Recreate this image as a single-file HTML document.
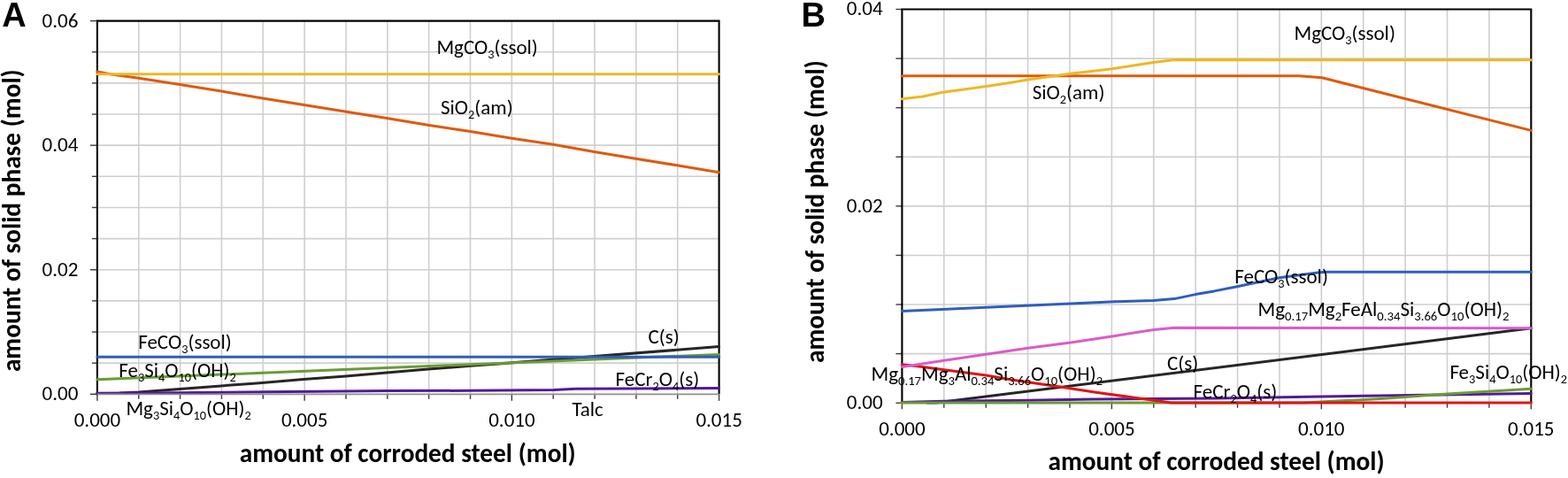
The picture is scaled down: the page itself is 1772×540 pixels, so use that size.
<!DOCTYPE html>
<html><head><meta charset="utf-8"><title>Solid phases vs corroded steel</title>
<style>
html,body{margin:0;padding:0;background:#fff;}
svg{display:block;}
text{font-family:Carlito, 'Liberation Sans', sans-serif;font-size:23px;fill:#000;}
text.b{font-weight:bold;font-size:29.3px;}
text.L{font-family:'Liberation Sans',Arial,sans-serif;font-weight:bold;font-size:38px;}
</style></head>
<body>
<svg width="1772" height="540" viewBox="0 0 1772 540">
<rect width="1772" height="540" fill="#fff"/>
<line x1="156.75" y1="23.60" x2="156.75" y2="445.30" stroke="#CFCFCF" stroke-width="1.6"/>
<line x1="203.59" y1="23.60" x2="203.59" y2="445.30" stroke="#CFCFCF" stroke-width="1.6"/>
<line x1="250.44" y1="23.60" x2="250.44" y2="445.30" stroke="#CFCFCF" stroke-width="1.6"/>
<line x1="297.29" y1="23.60" x2="297.29" y2="445.30" stroke="#CFCFCF" stroke-width="1.6"/>
<line x1="344.13" y1="23.60" x2="344.13" y2="445.30" stroke="#CFCFCF" stroke-width="1.6"/>
<line x1="390.98" y1="23.60" x2="390.98" y2="445.30" stroke="#CFCFCF" stroke-width="1.6"/>
<line x1="437.83" y1="23.60" x2="437.83" y2="445.30" stroke="#CFCFCF" stroke-width="1.6"/>
<line x1="484.67" y1="23.60" x2="484.67" y2="445.30" stroke="#CFCFCF" stroke-width="1.6"/>
<line x1="531.52" y1="23.60" x2="531.52" y2="445.30" stroke="#CFCFCF" stroke-width="1.6"/>
<line x1="578.37" y1="23.60" x2="578.37" y2="445.30" stroke="#CFCFCF" stroke-width="1.6"/>
<line x1="625.21" y1="23.60" x2="625.21" y2="445.30" stroke="#CFCFCF" stroke-width="1.6"/>
<line x1="672.06" y1="23.60" x2="672.06" y2="445.30" stroke="#CFCFCF" stroke-width="1.6"/>
<line x1="718.91" y1="23.60" x2="718.91" y2="445.30" stroke="#CFCFCF" stroke-width="1.6"/>
<line x1="765.75" y1="23.60" x2="765.75" y2="445.30" stroke="#CFCFCF" stroke-width="1.6"/>
<line x1="109.90" y1="410.16" x2="812.60" y2="410.16" stroke="#CFCFCF" stroke-width="1.6"/>
<line x1="109.90" y1="375.02" x2="812.60" y2="375.02" stroke="#CFCFCF" stroke-width="1.6"/>
<line x1="109.90" y1="339.88" x2="812.60" y2="339.88" stroke="#CFCFCF" stroke-width="1.6"/>
<line x1="109.90" y1="304.73" x2="812.60" y2="304.73" stroke="#CFCFCF" stroke-width="1.6"/>
<line x1="109.90" y1="269.59" x2="812.60" y2="269.59" stroke="#CFCFCF" stroke-width="1.6"/>
<line x1="109.90" y1="234.45" x2="812.60" y2="234.45" stroke="#CFCFCF" stroke-width="1.6"/>
<line x1="109.90" y1="199.31" x2="812.60" y2="199.31" stroke="#CFCFCF" stroke-width="1.6"/>
<line x1="109.90" y1="164.17" x2="812.60" y2="164.17" stroke="#CFCFCF" stroke-width="1.6"/>
<line x1="109.90" y1="129.03" x2="812.60" y2="129.03" stroke="#CFCFCF" stroke-width="1.6"/>
<line x1="109.90" y1="93.88" x2="812.60" y2="93.88" stroke="#CFCFCF" stroke-width="1.6"/>
<line x1="109.90" y1="58.74" x2="812.60" y2="58.74" stroke="#CFCFCF" stroke-width="1.6"/>
<line x1="101.90" y1="445.30" x2="109.90" y2="445.30" stroke="#3A3A3A" stroke-width="1.4"/>
<line x1="103.90" y1="410.16" x2="109.90" y2="410.16" stroke="#3A3A3A" stroke-width="1.4"/>
<line x1="103.90" y1="375.02" x2="109.90" y2="375.02" stroke="#3A3A3A" stroke-width="1.4"/>
<line x1="103.90" y1="339.88" x2="109.90" y2="339.88" stroke="#3A3A3A" stroke-width="1.4"/>
<line x1="101.90" y1="304.73" x2="109.90" y2="304.73" stroke="#3A3A3A" stroke-width="1.4"/>
<line x1="103.90" y1="269.59" x2="109.90" y2="269.59" stroke="#3A3A3A" stroke-width="1.4"/>
<line x1="103.90" y1="234.45" x2="109.90" y2="234.45" stroke="#3A3A3A" stroke-width="1.4"/>
<line x1="103.90" y1="199.31" x2="109.90" y2="199.31" stroke="#3A3A3A" stroke-width="1.4"/>
<line x1="101.90" y1="164.17" x2="109.90" y2="164.17" stroke="#3A3A3A" stroke-width="1.4"/>
<line x1="103.90" y1="129.03" x2="109.90" y2="129.03" stroke="#3A3A3A" stroke-width="1.4"/>
<line x1="103.90" y1="93.88" x2="109.90" y2="93.88" stroke="#3A3A3A" stroke-width="1.4"/>
<line x1="103.90" y1="58.74" x2="109.90" y2="58.74" stroke="#3A3A3A" stroke-width="1.4"/>
<line x1="101.90" y1="23.60" x2="109.90" y2="23.60" stroke="#3A3A3A" stroke-width="1.4"/>
<line x1="109.90" y1="445.30" x2="109.90" y2="452.80" stroke="#3A3A3A" stroke-width="1.4"/>
<line x1="156.75" y1="445.30" x2="156.75" y2="450.80" stroke="#3A3A3A" stroke-width="1.4"/>
<line x1="203.59" y1="445.30" x2="203.59" y2="450.80" stroke="#3A3A3A" stroke-width="1.4"/>
<line x1="250.44" y1="445.30" x2="250.44" y2="450.80" stroke="#3A3A3A" stroke-width="1.4"/>
<line x1="297.29" y1="445.30" x2="297.29" y2="450.80" stroke="#3A3A3A" stroke-width="1.4"/>
<line x1="344.13" y1="445.30" x2="344.13" y2="452.80" stroke="#3A3A3A" stroke-width="1.4"/>
<line x1="390.98" y1="445.30" x2="390.98" y2="450.80" stroke="#3A3A3A" stroke-width="1.4"/>
<line x1="437.83" y1="445.30" x2="437.83" y2="450.80" stroke="#3A3A3A" stroke-width="1.4"/>
<line x1="484.67" y1="445.30" x2="484.67" y2="450.80" stroke="#3A3A3A" stroke-width="1.4"/>
<line x1="531.52" y1="445.30" x2="531.52" y2="450.80" stroke="#3A3A3A" stroke-width="1.4"/>
<line x1="578.37" y1="445.30" x2="578.37" y2="452.80" stroke="#3A3A3A" stroke-width="1.4"/>
<line x1="625.21" y1="445.30" x2="625.21" y2="450.80" stroke="#3A3A3A" stroke-width="1.4"/>
<line x1="672.06" y1="445.30" x2="672.06" y2="450.80" stroke="#3A3A3A" stroke-width="1.4"/>
<line x1="718.91" y1="445.30" x2="718.91" y2="450.80" stroke="#3A3A3A" stroke-width="1.4"/>
<line x1="765.75" y1="445.30" x2="765.75" y2="450.80" stroke="#3A3A3A" stroke-width="1.4"/>
<line x1="812.60" y1="445.30" x2="812.60" y2="452.80" stroke="#3A3A3A" stroke-width="1.4"/>
<polyline points="109.90,446.20 109.90,23.60 812.60,23.60 812.60,445.30" fill="none" stroke="#000" stroke-width="2.1"/>
<polyline points="109.9,80.9 126.0,84.0 156.7,88.2 203.3,95.5 250.0,103.0 296.7,111.0 343.5,118.5 390.0,126.0 437.0,133.5 485.0,141.5 531.6,148.6 578.4,156.3 625.3,163.3 671.6,171.5 718.4,179.2 765.0,186.8 812.6,194.8" fill="none" stroke="#DF5A0C" stroke-width="3" stroke-linejoin="round" stroke-linecap="round"/>
<polyline points="109.9,444.3 135.0,444.0 157.0,443.0 203.0,439.6 250.0,435.9 290.0,433.0 343.0,428.4 390.6,425.0 437.0,421.1 484.0,417.0 531.5,413.3 560.0,411.2 812.6,391.6" fill="none" stroke="#262626" stroke-width="3" stroke-linejoin="round" stroke-linecap="round"/>
<polyline points="109.9,428.7 812.6,400.4" fill="none" stroke="#6A9C33" stroke-width="3" stroke-linejoin="round" stroke-linecap="round"/>
<polyline points="109.9,403.3 812.6,403.3" fill="none" stroke="#2F5EBD" stroke-width="3" stroke-linejoin="round" stroke-linecap="round"/>
<polyline points="109.9,444.6 300.0,442.7 440.0,441.6 531.0,441.3 626.0,440.5 650.0,439.2 812.6,438.5" fill="none" stroke="#521A98" stroke-width="3" stroke-linejoin="round" stroke-linecap="round"/>
<polyline points="109.9,83.7 812.6,83.7" fill="none" stroke="#EEB824" stroke-width="3" stroke-linejoin="round" stroke-linecap="round"/>
<line x1="109.90" y1="445.30" x2="812.60" y2="445.30" stroke="#8F8F8F" stroke-width="1.8"/>
<text textLength="40.78" lengthAdjust="spacingAndGlyphs" x="88.4" y="30.6" text-anchor="end">0.06</text>
<text textLength="40.78" lengthAdjust="spacingAndGlyphs" x="88.4" y="171.2" text-anchor="end">0.04</text>
<text textLength="40.78" lengthAdjust="spacingAndGlyphs" x="88.4" y="311.7" text-anchor="end">0.02</text>
<text textLength="40.78" lengthAdjust="spacingAndGlyphs" x="88.4" y="452.3" text-anchor="end">0.00</text>
<text textLength="52.44" lengthAdjust="spacingAndGlyphs" x="109.9" y="481.6" text-anchor="middle">0.000</text>
<text textLength="52.44" lengthAdjust="spacingAndGlyphs" x="344.1" y="481.6" text-anchor="middle">0.005</text>
<text textLength="52.44" lengthAdjust="spacingAndGlyphs" x="578.4" y="481.6" text-anchor="middle">0.010</text>
<text textLength="52.44" lengthAdjust="spacingAndGlyphs" x="812.6" y="481.6" text-anchor="middle">0.015</text>
<text textLength="114.39" lengthAdjust="spacingAndGlyphs" x="493.4" y="60.8">MgCO<tspan font-size="14.3" dy="5">3</tspan><tspan dy="-5">(ssol)</tspan></text>
<text textLength="81.67" lengthAdjust="spacingAndGlyphs" x="498.0" y="128.9">SiO<tspan font-size="14.3" dy="5">2</tspan><tspan dy="-5">(am)</tspan></text>
<text textLength="105.58" lengthAdjust="spacingAndGlyphs" x="156.2" y="393.6">FeCO<tspan font-size="14.3" dy="5">3</tspan><tspan dy="-5">(ssol)</tspan></text>
<text textLength="132.55" lengthAdjust="spacingAndGlyphs" x="134.2" y="425.6">Fe<tspan font-size="14.3" dy="5">3</tspan><tspan dy="-5">Si</tspan><tspan font-size="14.3" dy="5">4</tspan><tspan dy="-5">O</tspan><tspan font-size="14.3" dy="5">10</tspan><tspan dy="-5">(OH)</tspan><tspan font-size="14.3" dy="5">2</tspan></text>
<text textLength="35.22" lengthAdjust="spacingAndGlyphs" x="732.5" y="387.8">C(s)</text>
<text textLength="94.66" lengthAdjust="spacingAndGlyphs" x="695.6" y="435.6">FeCr<tspan font-size="14.3" dy="5">2</tspan><tspan dy="-5">O</tspan><tspan font-size="14.3" dy="5">4</tspan><tspan dy="-5">(s)</tspan></text>
<text textLength="141.36" lengthAdjust="spacingAndGlyphs" x="142.4" y="468.5">Mg<tspan font-size="14.3" dy="5">3</tspan><tspan dy="-5">Si</tspan><tspan font-size="14.3" dy="5">4</tspan><tspan dy="-5">O</tspan><tspan font-size="14.3" dy="5">10</tspan><tspan dy="-5">(OH)</tspan><tspan font-size="14.3" dy="5">2</tspan></text>
<text textLength="35.44" lengthAdjust="spacingAndGlyphs" x="646.4" y="470.0">Talc</text>
<text textLength="380.05" lengthAdjust="spacingAndGlyphs" x="460.7" y="521.9" text-anchor="middle" class="b">amount of corroded steel (mol)</text>
<text textLength="341.81" lengthAdjust="spacingAndGlyphs" transform="translate(22.7,249.2) rotate(-90)" text-anchor="middle" class="b">amount of solid phase (mol)</text>
<text textLength="27.45" lengthAdjust="spacingAndGlyphs" x="2.2" y="30" class="L">A</text>
<line x1="1066.79" y1="10.50" x2="1066.79" y2="455.20" stroke="#CFCFCF" stroke-width="1.6"/>
<line x1="1114.19" y1="10.50" x2="1114.19" y2="455.20" stroke="#CFCFCF" stroke-width="1.6"/>
<line x1="1161.58" y1="10.50" x2="1161.58" y2="455.20" stroke="#CFCFCF" stroke-width="1.6"/>
<line x1="1208.97" y1="10.50" x2="1208.97" y2="455.20" stroke="#CFCFCF" stroke-width="1.6"/>
<line x1="1256.37" y1="10.50" x2="1256.37" y2="455.20" stroke="#CFCFCF" stroke-width="1.6"/>
<line x1="1303.76" y1="10.50" x2="1303.76" y2="455.20" stroke="#CFCFCF" stroke-width="1.6"/>
<line x1="1351.15" y1="10.50" x2="1351.15" y2="455.20" stroke="#CFCFCF" stroke-width="1.6"/>
<line x1="1398.55" y1="10.50" x2="1398.55" y2="455.20" stroke="#CFCFCF" stroke-width="1.6"/>
<line x1="1445.94" y1="10.50" x2="1445.94" y2="455.20" stroke="#CFCFCF" stroke-width="1.6"/>
<line x1="1493.33" y1="10.50" x2="1493.33" y2="455.20" stroke="#CFCFCF" stroke-width="1.6"/>
<line x1="1540.73" y1="10.50" x2="1540.73" y2="455.20" stroke="#CFCFCF" stroke-width="1.6"/>
<line x1="1588.12" y1="10.50" x2="1588.12" y2="455.20" stroke="#CFCFCF" stroke-width="1.6"/>
<line x1="1635.51" y1="10.50" x2="1635.51" y2="455.20" stroke="#CFCFCF" stroke-width="1.6"/>
<line x1="1682.91" y1="10.50" x2="1682.91" y2="455.20" stroke="#CFCFCF" stroke-width="1.6"/>
<line x1="1019.40" y1="399.61" x2="1730.30" y2="399.61" stroke="#CFCFCF" stroke-width="1.6"/>
<line x1="1019.40" y1="344.02" x2="1730.30" y2="344.02" stroke="#CFCFCF" stroke-width="1.6"/>
<line x1="1019.40" y1="288.44" x2="1730.30" y2="288.44" stroke="#CFCFCF" stroke-width="1.6"/>
<line x1="1019.40" y1="232.85" x2="1730.30" y2="232.85" stroke="#CFCFCF" stroke-width="1.6"/>
<line x1="1019.40" y1="177.26" x2="1730.30" y2="177.26" stroke="#CFCFCF" stroke-width="1.6"/>
<line x1="1019.40" y1="121.68" x2="1730.30" y2="121.68" stroke="#CFCFCF" stroke-width="1.6"/>
<line x1="1019.40" y1="66.09" x2="1730.30" y2="66.09" stroke="#CFCFCF" stroke-width="1.6"/>
<line x1="1012.40" y1="455.20" x2="1019.40" y2="455.20" stroke="#3A3A3A" stroke-width="1.4"/>
<line x1="1012.40" y1="399.61" x2="1019.40" y2="399.61" stroke="#3A3A3A" stroke-width="1.4"/>
<line x1="1012.40" y1="344.02" x2="1019.40" y2="344.02" stroke="#3A3A3A" stroke-width="1.4"/>
<line x1="1012.40" y1="288.44" x2="1019.40" y2="288.44" stroke="#3A3A3A" stroke-width="1.4"/>
<line x1="1012.40" y1="232.85" x2="1019.40" y2="232.85" stroke="#3A3A3A" stroke-width="1.4"/>
<line x1="1012.40" y1="177.26" x2="1019.40" y2="177.26" stroke="#3A3A3A" stroke-width="1.4"/>
<line x1="1012.40" y1="121.68" x2="1019.40" y2="121.68" stroke="#3A3A3A" stroke-width="1.4"/>
<line x1="1012.40" y1="66.09" x2="1019.40" y2="66.09" stroke="#3A3A3A" stroke-width="1.4"/>
<line x1="1012.40" y1="10.50" x2="1019.40" y2="10.50" stroke="#3A3A3A" stroke-width="1.4"/>
<line x1="1019.40" y1="455.20" x2="1019.40" y2="462.20" stroke="#3A3A3A" stroke-width="1.4"/>
<line x1="1066.79" y1="455.20" x2="1066.79" y2="460.70" stroke="#3A3A3A" stroke-width="1.4"/>
<line x1="1114.19" y1="455.20" x2="1114.19" y2="460.70" stroke="#3A3A3A" stroke-width="1.4"/>
<line x1="1161.58" y1="455.20" x2="1161.58" y2="460.70" stroke="#3A3A3A" stroke-width="1.4"/>
<line x1="1208.97" y1="455.20" x2="1208.97" y2="460.70" stroke="#3A3A3A" stroke-width="1.4"/>
<line x1="1256.37" y1="455.20" x2="1256.37" y2="462.20" stroke="#3A3A3A" stroke-width="1.4"/>
<line x1="1303.76" y1="455.20" x2="1303.76" y2="460.70" stroke="#3A3A3A" stroke-width="1.4"/>
<line x1="1351.15" y1="455.20" x2="1351.15" y2="460.70" stroke="#3A3A3A" stroke-width="1.4"/>
<line x1="1398.55" y1="455.20" x2="1398.55" y2="460.70" stroke="#3A3A3A" stroke-width="1.4"/>
<line x1="1445.94" y1="455.20" x2="1445.94" y2="460.70" stroke="#3A3A3A" stroke-width="1.4"/>
<line x1="1493.33" y1="455.20" x2="1493.33" y2="462.20" stroke="#3A3A3A" stroke-width="1.4"/>
<line x1="1540.73" y1="455.20" x2="1540.73" y2="460.70" stroke="#3A3A3A" stroke-width="1.4"/>
<line x1="1588.12" y1="455.20" x2="1588.12" y2="460.70" stroke="#3A3A3A" stroke-width="1.4"/>
<line x1="1635.51" y1="455.20" x2="1635.51" y2="460.70" stroke="#3A3A3A" stroke-width="1.4"/>
<line x1="1682.91" y1="455.20" x2="1682.91" y2="460.70" stroke="#3A3A3A" stroke-width="1.4"/>
<line x1="1730.30" y1="455.20" x2="1730.30" y2="462.20" stroke="#3A3A3A" stroke-width="1.4"/>
<line x1="1019.40" y1="455.20" x2="1730.30" y2="455.20" stroke="#8F8F8F" stroke-width="1.8"/>
<polyline points="1019.40,456.10 1019.40,10.50 1730.30,10.50 1730.30,455.20" fill="none" stroke="#000" stroke-width="2.1"/>
<polyline points="1019.4,85.8 1468.0,85.8 1494.0,87.8 1730.3,147.4" fill="none" stroke="#DF5A0C" stroke-width="3" stroke-linejoin="round" stroke-linecap="round"/>
<polyline points="1048.0,455.1 1057.7,455.1 1730.3,370.8" fill="none" stroke="#262626" stroke-width="3" stroke-linejoin="round" stroke-linecap="round"/>
<polyline points="1019.4,454.6 1065.8,453.3 1161.3,452.3 1234.4,450.9 1375.0,449.9 1493.6,448.1 1730.3,444.4" fill="none" stroke="#521A98" stroke-width="3" stroke-linejoin="round" stroke-linecap="round"/>
<polyline points="1019.4,455.1 1472.0,455.1 1560.0,450.5 1635.7,445.0 1730.3,439.3" fill="none" stroke="#6A9C33" stroke-width="3" stroke-linejoin="round" stroke-linecap="round"/>
<polyline points="1019.4,411.7 1037.2,413.7 1066.9,417.8 1114.3,424.1 1144.6,429.3 1197.9,437.1 1238.5,443.2 1289.3,450.3 1323.8,455.0 1730.3,455.1" fill="none" stroke="#E21414" stroke-width="3" stroke-linejoin="round" stroke-linecap="round"/>
<polyline points="1019.4,414.4 1066.9,407.2 1114.3,400.3 1161.5,393.3 1210.0,387.1 1260.0,379.4 1304.0,372.4 1327.0,370.3 1730.3,370.8" fill="none" stroke="#DA5BCB" stroke-width="3" stroke-linejoin="round" stroke-linecap="round"/>
<polyline points="1019.4,351.6 1260.0,340.8 1303.7,339.4 1327.0,337.6 1351.0,332.6 1372.0,328.9 1398.0,323.7 1446.0,313.7 1489.0,308.0 1498.0,307.3 1730.3,307.3" fill="none" stroke="#2F5EBD" stroke-width="3" stroke-linejoin="round" stroke-linecap="round"/>
<polyline points="1019.4,111.8 1043.0,109.0 1065.3,104.3 1093.2,100.6 1114.6,97.5 1137.9,94.1 1162.1,90.0 1209.6,83.3 1257.1,77.7 1288.7,72.7 1305.5,70.3 1327.8,67.6 1730.3,67.8" fill="none" stroke="#EEB824" stroke-width="3" stroke-linejoin="round" stroke-linecap="round"/>
<text textLength="40.78" lengthAdjust="spacingAndGlyphs" x="997.6" y="17.3" text-anchor="end">0.04</text>
<text textLength="40.78" lengthAdjust="spacingAndGlyphs" x="997.6" y="239.7" text-anchor="end">0.02</text>
<text textLength="40.78" lengthAdjust="spacingAndGlyphs" x="997.6" y="462.0" text-anchor="end">0.00</text>
<text textLength="52.44" lengthAdjust="spacingAndGlyphs" x="1019.4" y="491.8" text-anchor="middle">0.000</text>
<text textLength="52.44" lengthAdjust="spacingAndGlyphs" x="1256.4" y="491.8" text-anchor="middle">0.005</text>
<text textLength="52.44" lengthAdjust="spacingAndGlyphs" x="1493.3" y="491.8" text-anchor="middle">0.010</text>
<text textLength="52.44" lengthAdjust="spacingAndGlyphs" x="1730.3" y="491.8" text-anchor="middle">0.015</text>
<text textLength="114.39" lengthAdjust="spacingAndGlyphs" x="1462.5" y="45.2">MgCO<tspan font-size="14.3" dy="5">3</tspan><tspan dy="-5">(ssol)</tspan></text>
<text textLength="81.67" lengthAdjust="spacingAndGlyphs" x="1166.7" y="111.8">SiO<tspan font-size="14.3" dy="5">2</tspan><tspan dy="-5">(am)</tspan></text>
<text textLength="105.58" lengthAdjust="spacingAndGlyphs" x="1395.3" y="320.0">FeCO<tspan font-size="14.3" dy="5">3</tspan><tspan dy="-5">(ssol)</tspan></text>
<text textLength="283.81" lengthAdjust="spacingAndGlyphs" x="1421.6" y="357.0">Mg<tspan font-size="14.7" dy="5">0.17</tspan><tspan dy="-5">Mg</tspan><tspan font-size="14.7" dy="5">2</tspan><tspan dy="-5">FeAl</tspan><tspan font-size="14.7" dy="5">0.34</tspan><tspan dy="-5">Si</tspan><tspan font-size="14.7" dy="5">3.66</tspan><tspan dy="-5">O</tspan><tspan font-size="14.7" dy="5">10</tspan><tspan dy="-5">(OH)</tspan><tspan font-size="14.7" dy="5">2</tspan></text>
<text textLength="35.22" lengthAdjust="spacingAndGlyphs" x="1318.9" y="417.5">C(s)</text>
<text textLength="261.44" lengthAdjust="spacingAndGlyphs" x="984.6" y="429.5">Mg<tspan font-size="14.6" dy="5">0.17</tspan><tspan dy="-5">Mg</tspan><tspan font-size="14.6" dy="5">3</tspan><tspan dy="-5">Al</tspan><tspan font-size="14.6" dy="5">0.34</tspan><tspan dy="-5">Si</tspan><tspan font-size="14.6" dy="5">3.66</tspan><tspan dy="-5">O</tspan><tspan font-size="14.6" dy="5">10</tspan><tspan dy="-5">(OH)</tspan><tspan font-size="14.6" dy="5">2</tspan></text>
<text textLength="94.66" lengthAdjust="spacingAndGlyphs" x="1348.5" y="450.0">FeCr<tspan font-size="14.3" dy="5">2</tspan><tspan dy="-5">O</tspan><tspan font-size="14.3" dy="5">4</tspan><tspan dy="-5">(s)</tspan></text>
<text textLength="132.55" lengthAdjust="spacingAndGlyphs" x="1638.4" y="427.9">Fe<tspan font-size="14.3" dy="5">3</tspan><tspan dy="-5">Si</tspan><tspan font-size="14.3" dy="5">4</tspan><tspan dy="-5">O</tspan><tspan font-size="14.3" dy="5">10</tspan><tspan dy="-5">(OH)</tspan><tspan font-size="14.3" dy="5">2</tspan></text>
<text textLength="380.05" lengthAdjust="spacingAndGlyphs" x="1374.6" y="531.3" text-anchor="middle" class="b">amount of corroded steel (mol)</text>
<text textLength="341.81" lengthAdjust="spacingAndGlyphs" transform="translate(930.5,239.1) rotate(-90)" text-anchor="middle" class="b">amount of solid phase (mol)</text>
<text textLength="27.45" lengthAdjust="spacingAndGlyphs" x="905.6" y="29.6" class="L">B</text>
</svg>
</body></html>
